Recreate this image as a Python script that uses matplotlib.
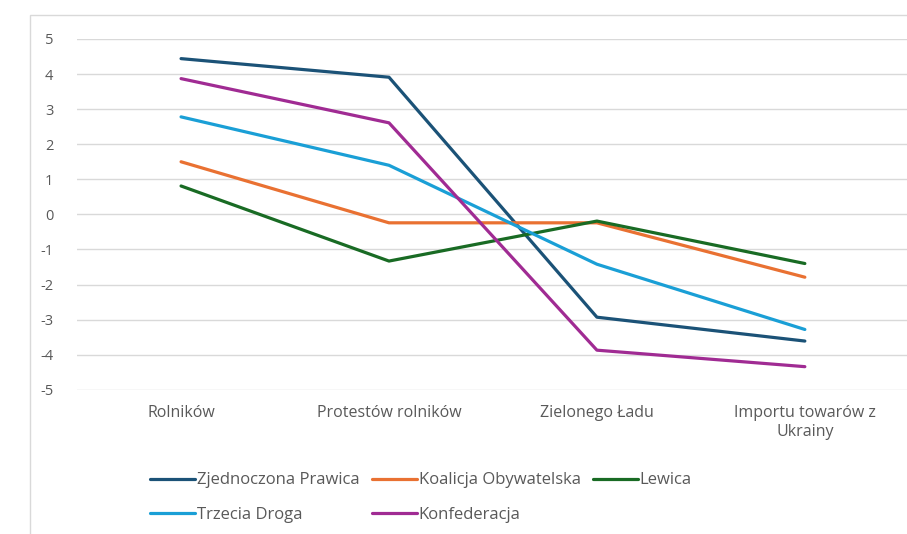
import matplotlib.pyplot as plt
from matplotlib.patches import Rectangle

plt.rcParams['font.family'] = ['Open Sans', 'DejaVu Sans']
plt.rcParams['axes.unicode_minus'] = False

# Categories and series values
categories = ['Rolników', 'Protestów rolników', 'Zielonego Ładu', 'Importu towarów z\nUkrainy']
zjednoczona_prawica = [4.44, 3.91, -2.93, -3.61]
koalicja_obywatelska = [1.50, -0.24, -0.24, -1.79]
lewica = [0.81, -1.33, -0.19, -1.40]
trzecia_droga = [2.78, 1.40, -1.42, -3.28]
konfederacja = [3.87, 2.61, -3.87, -4.34]

series = [
    ('Zjednoczona Prawica', zjednoczona_prawica, '#1b5277'),
    ('Koalicja Obywatelska', koalicja_obywatelska, '#e97132'),
    ('Lewica', lewica, '#196b24'),
    ('Trzecia Droga', trzecia_droga, '#1a9fd6'),
    ('Konfederacja', konfederacja, '#a02b93'),
]

text_color = '#595959'

fig = plt.figure(figsize=(9.07, 5.34), dpi=100)
ax = fig.add_axes([0.085, 0.270, 0.917, 0.657])

# outer chart border
fig.patches.append(Rectangle((30 / 907, -0.01), 1.0, 1 - 15 / 534 + 0.01,
                             transform=fig.transFigure, fill=False,
                             edgecolor='#d9d9d9', linewidth=1))

lines = {}
x = list(range(len(categories)))
for name, vals, color in series:
    ln, = ax.plot(x, vals, color=color, linewidth=2.3, label=name,
                  solid_capstyle='round', solid_joinstyle='round')
    lines[name] = ln

ax.set_xlim(-0.5, len(categories) - 0.5)
ax.set_ylim(-5, 5)
ax.set_yticks(range(-5, 6))
ax.set_xticks(x)
ax.set_xticklabels(categories, fontsize=11.5, linespacing=1.25)
ax.tick_params(axis='both', length=0, colors=text_color)
ax.tick_params(axis='y', pad=17, labelsize=10.5)
ax.tick_params(axis='x', pad=11)
ax.grid(axis='y', color='#d9d9d9', linewidth=1)
ax.set_axisbelow(True)
for s in ax.spines.values():
    s.set_visible(False)

# legend filled column-wise, so reorder to get the row layout of the reference
order = ['Zjednoczona Prawica', 'Trzecia Droga', 'Koalicja Obywatelska', 'Konfederacja', 'Lewica']
leg = fig.legend([lines[n] for n in order], order, ncol=3, frameon=False,
                 loc='upper left', bbox_to_anchor=(0.149, 0.1434),
                 handlelength=2.7, handletextpad=0.1, columnspacing=0.75,
                 labelspacing=1.1, fontsize=12, labelcolor=text_color)

plt.savefig('out.png', dpi=100)
